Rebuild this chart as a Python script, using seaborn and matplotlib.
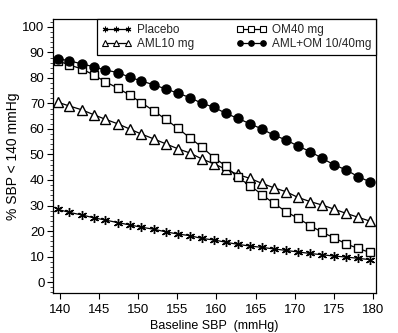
import matplotlib
matplotlib.use("Agg")
import matplotlib.pyplot as plt
import seaborn as sns
import pandas as pd
from matplotlib.ticker import MultipleLocator

sns.set_theme(style="ticks")
plt.rcParams['font.family'] = ['Liberation Sans', 'DejaVu Sans']

baseline_sbp = [139.7, 141.2, 142.8, 144.3, 145.8, 147.4, 148.9, 150.4, 152.0,
                153.5, 155.1, 156.6, 158.1, 159.7, 161.2, 162.7, 164.3, 165.8,
                167.3, 168.9, 170.4, 172.0, 173.5, 175.0, 176.6, 178.1, 179.6]

placebo = [28.5, 27.3, 26.3, 25.2, 24.3, 23.3, 22.4, 21.5, 20.7, 19.7, 18.8, 18.2,
           17.1, 16.5, 15.6, 14.8, 14.1, 13.6, 13.0, 12.4, 11.8, 11.2, 10.7, 10.2,
           9.8, 9.3, 8.8]
aml10 = [70.5, 69.0, 67.5, 65.6, 63.8, 62.0, 60.0, 58.0, 56.1, 54.2, 52.2, 50.6,
         48.3, 46.3, 44.2, 42.2, 40.6, 38.7, 37.0, 35.4, 33.2, 31.5, 30.2, 28.6,
         26.9, 25.4, 23.9]
om40 = [86.7, 85.1, 83.5, 81.2, 78.5, 76.0, 73.3, 70.3, 67.1, 63.8, 60.2, 56.5,
        53.0, 48.7, 45.5, 41.0, 37.8, 34.3, 30.9, 27.6, 25.0, 22.1, 19.5, 17.4,
        14.9, 13.2, 11.6]
aml_om = [87.6, 86.7, 85.5, 84.4, 83.1, 82.1, 80.3, 78.8, 77.3, 75.7, 74.0, 72.3,
          70.1, 68.5, 66.1, 64.2, 62.0, 60.0, 57.6, 55.7, 53.3, 51.1, 48.5, 46.0,
          43.9, 41.3, 39.3]

series_names = ["Placebo", "AML10 mg", "OM40 mg", "AML+OM 10/40mg"]
series_values = [placebo, aml10, om40, aml_om]
markers = [(6, 2, 0), "^", "s", "o"]
facecolors = ["black", "white", "white", "black"]
msizes = [6.5, 6.5, 6.2, 6.5]

x_ticks = [140, 145, 150, 155, 160, 165, 170, 175, 180]
y_ticks = [0, 10, 20, 30, 40, 50, 60, 70, 80, 90, 100]

fig = plt.figure(figsize=(3.98, 3.33), dpi=100)
ax = fig.add_axes([0.133, 0.12, 0.812, 0.823])

for name, vals, mk, fc, ms in zip(series_names, series_values, markers, facecolors, msizes):
    df = pd.DataFrame({"x": baseline_sbp, "y": vals})
    sns.lineplot(data=df, x="x", y="y", ax=ax, color="black", linewidth=0.9,
                 marker=mk, markersize=ms, markerfacecolor=fc,
                 markeredgecolor="black", markeredgewidth=1.0, label=name)

ax.set_xlim(139.1, 180.4)
ax.set_ylim(-4.3, 103.1)
ax.set_xticks(x_ticks)
ax.set_yticks(y_ticks)
ax.yaxis.set_minor_locator(MultipleLocator(2))
ax.tick_params(axis="both", which="major", direction="out", length=4, width=0.8,
               labelsize=9.5, colors="black", pad=2)
ax.tick_params(axis="x", which="major", pad=4)
ax.tick_params(axis="y", which="minor", direction="out", length=2, width=0.6)
for s in ax.spines.values():
    s.set_color("black")
    s.set_linewidth(0.9)
    s.set_visible(True)

ax.set_xlabel("Baseline SBP  (mmHg)", fontsize=9, color="black", labelpad=2.5)
ax.set_ylabel("% SBP < 140 mmHg", fontsize=10, color="black", labelpad=2)

leg = ax.legend(ncol=2, loc="upper right", bbox_to_anchor=(1.0, 1.0),
                frameon=True, fancybox=False, edgecolor="black", fontsize=8.5,
                borderaxespad=0, handlelength=2.5, numpoints=3,
                handletextpad=0.5, columnspacing=3.6, borderpad=0.4,
                labelspacing=0.2, framealpha=1)
leg.get_frame().set_linewidth(0.9)
for ln in leg.get_lines():
    ln.set_markersize(4)
    ln.set_markeredgewidth(0.8)

fig.savefig("out.png", dpi=100)
